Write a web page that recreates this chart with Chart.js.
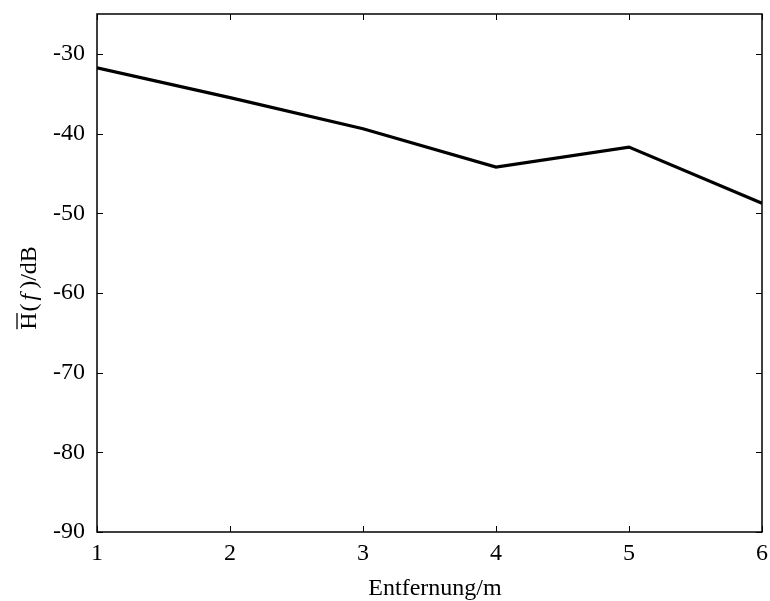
<!DOCTYPE html>
<html>
<head>
<meta charset="utf-8">
<script src="https://cdn.jsdelivr.net/npm/chart.js@4.4.1/dist/chart.umd.min.js"></script>
<style>
html,body{margin:0;padding:0;background:#fff;}
#wrap{width:770px;height:601px;position:relative;}
</style>
</head>
<body>
<div id="wrap"><canvas id="c" width="770" height="601"></canvas></div>
<script>
const distances = [1, 2, 3, 4, 5, 6];
const hValues = [-31.75, -35.5, -39.4, -44.2, -41.7, -48.75];
const yTicks = [-90, -80, -70, -60, -50, -40, -30];
const xTicks = [1, 2, 3, 4, 5, 6];
const xTitle = 'Entfernung/m';

const FONT = '"Liberation Serif", "Times New Roman", serif';

const frameTicks = {
  id: 'frameTicks',
  afterDraw(chart) {
    const ctx = chart.ctx, a = chart.chartArea;
    const xs = chart.scales.x, ys = chart.scales.y;
    ctx.save();
    ctx.strokeStyle = '#000';
    ctx.lineWidth = 1.5;
    ctx.strokeRect(a.left, a.top, a.right - a.left, a.bottom - a.top);
    ctx.lineWidth = 1;
    const L = 6;
    ctx.beginPath();
    xTicks.forEach(v => {
      const px = Math.round(xs.getPixelForValue(v)) + 0.5;
      ctx.moveTo(px, a.bottom); ctx.lineTo(px, a.bottom - L);
      ctx.moveTo(px, a.top); ctx.lineTo(px, a.top + L);
    });
    yTicks.forEach(v => {
      const py = Math.round(ys.getPixelForValue(v)) + 0.5;
      ctx.moveTo(a.left, py); ctx.lineTo(a.left + L, py);
      ctx.moveTo(a.right, py); ctx.lineTo(a.right - L, py);
    });
    ctx.stroke();

    // x-axis title
    ctx.fillStyle = '#000';
    ctx.font = '24px ' + FONT;
    ctx.textAlign = 'center';
    ctx.textBaseline = 'alphabetic';
    ctx.fillText(xTitle, 435, 595);

    // y-axis title: H with overline, italic f
    const cy = 288;
    ctx.translate(0, cy);
    ctx.rotate(-Math.PI / 2);
    ctx.textBaseline = 'alphabetic';
    ctx.textAlign = 'left';
    const normal = '24px ' + FONT, ital = 'italic 24px ' + FONT;
    const parts = [['H', normal, 0, 1], ['(', normal, 0, 3], ['f', ital, 0, 5], [')/dB', normal, 0, 0]];
    let total = 0;
    parts.forEach(p => { ctx.font = p[1]; total += ctx.measureText(p[0]).width + p[3]; });
    let x = -total / 2;
    const base = 36;
    parts.forEach(p => {
      ctx.font = p[1];
      const w = ctx.measureText(p[0]).width;
      ctx.fillText(p[0], x, base);
      if (p[0] === 'H') {
        ctx.beginPath();
        ctx.lineWidth = 1.3;
        ctx.moveTo(x + 0.5, base - 19); ctx.lineTo(x + w - 0.5, base - 19);
        ctx.stroke();
      }
      x += w + p[3];
    });
    ctx.restore();
  }
};

new Chart(document.getElementById('c'), {
  type: 'line',
  data: {
    datasets: [{
      data: distances.map((d, i) => ({x: d, y: hValues[i]})),
      borderColor: '#000',
      borderWidth: 3.2,
      pointRadius: 0,
      fill: false,
      tension: 0
    }]
  },
  options: {
    responsive: false,
    animation: false,
    devicePixelRatio: 1,
    layout: {padding: {left: 0, right: 8, top: 14, bottom: 0}},
    plugins: {legend: {display: false}, tooltip: {enabled: false}},
    scales: {
      x: {
        type: 'linear', min: 1, max: 6,
        afterBuildTicks(s) { s.ticks = xTicks.map(v => ({value: v})); },
        afterFit(s) { s.height = 69; s.paddingLeft = 0; s.paddingRight = 0; },
        grid: {display: false, drawTicks: false},
        border: {display: false},
        ticks: {color: '#000', font: {family: FONT, size: 24}, padding: 7, maxRotation: 0},
        title: {display: false}
      },
      y: {
        type: 'linear', min: -90, max: -25,
        afterBuildTicks(s) { s.ticks = yTicks.map(v => ({value: v})); },
        afterFit(s) { s.width = 97; s.paddingTop = 0; s.paddingBottom = 0; },
        grid: {display: false, drawTicks: false},
        border: {display: false},
        ticks: {color: '#000', font: {family: FONT, size: 24}, padding: 12}
      }
    }
  },
  plugins: [frameTicks]
});
</script>
</body>
</html>
